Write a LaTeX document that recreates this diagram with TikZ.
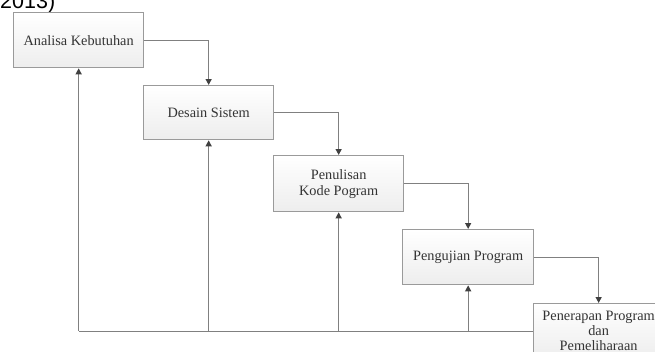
\documentclass[tikz,border=0pt]{standalone}
\usepackage{fontspec}
\setmainfont{Liberation Serif}
\newfontfamily\capfont{Liberation Sans}
\usetikzlibrary{arrows.meta}
\definecolor{linegray}{HTML}{808080}
\definecolor{tipgray}{HTML}{404040}
\definecolor{boxedge}{HTML}{9A9A9A}
\definecolor{txtgray}{HTML}{333333}
\tikzset{
  stagebox/.style={rectangle, draw=boxedge, line width=1.3pt, top color=white, bottom color=gray!14,
    minimum width=130pt, minimum height=55pt, inner sep=0pt, anchor=north west,
    font=\fontsize{14.3}{16}\selectfont, text=txtgray, align=center},
  flow/.style={draw=linegray, line width=1.3pt, -{Triangle[length=6pt,width=6pt,color=tipgray]}},
  plain/.style={draw=linegray, line width=1.3pt}
}
\begin{document}
\begin{tikzpicture}[x=1pt,y=-1pt]
\useasboundingbox (0,0) rectangle (655,351);
\begin{scope}
\clip (0,0) rectangle (655,351);
\node[anchor=base west, inner sep=0pt, font=\capfont\fontsize{21.5}{24}\selectfont, text=black] (cap) at (0,8) {2013)};
\node[stagebox] (a) at (13,12) {Analisa Kebutuhan};
\node[stagebox, minimum height=54pt] (b) at (143,85) {Desain Sistem};
\node[stagebox, minimum height=56pt] (c) at (273,155) {Penulisan\\Kode Pogram};
\node[stagebox, minimum width=131pt] (d) at (402,229) {Pengujian Program};
\node[stagebox, font=\fontsize{14.3}{15}\selectfont] (e) at (533,303) {Penerapan Program\\dan\\Pemeliharaan};
\draw[flow] (a.east) -| (b.north);
\draw[flow] (b.east) -| (c.north);
\draw[flow] (c.east) -| (d.north);
\draw[flow] (d.east) -| (e.north);
\coordinate (fa) at (a.south |- e.west);
\coordinate (fb) at (b.south |- e.west);
\coordinate (fc) at (c.south |- e.west);
\coordinate (fd) at (d.south |- e.west);
\draw[plain] (e.west) -- (fa);
\draw[flow] (fa) -- (a.south);
\draw[flow] (fb) -- (b.south);
\draw[flow] (fc) -- (c.south);
\draw[flow] (fd) -- (d.south);
\end{scope}
\end{tikzpicture}
\end{document}
